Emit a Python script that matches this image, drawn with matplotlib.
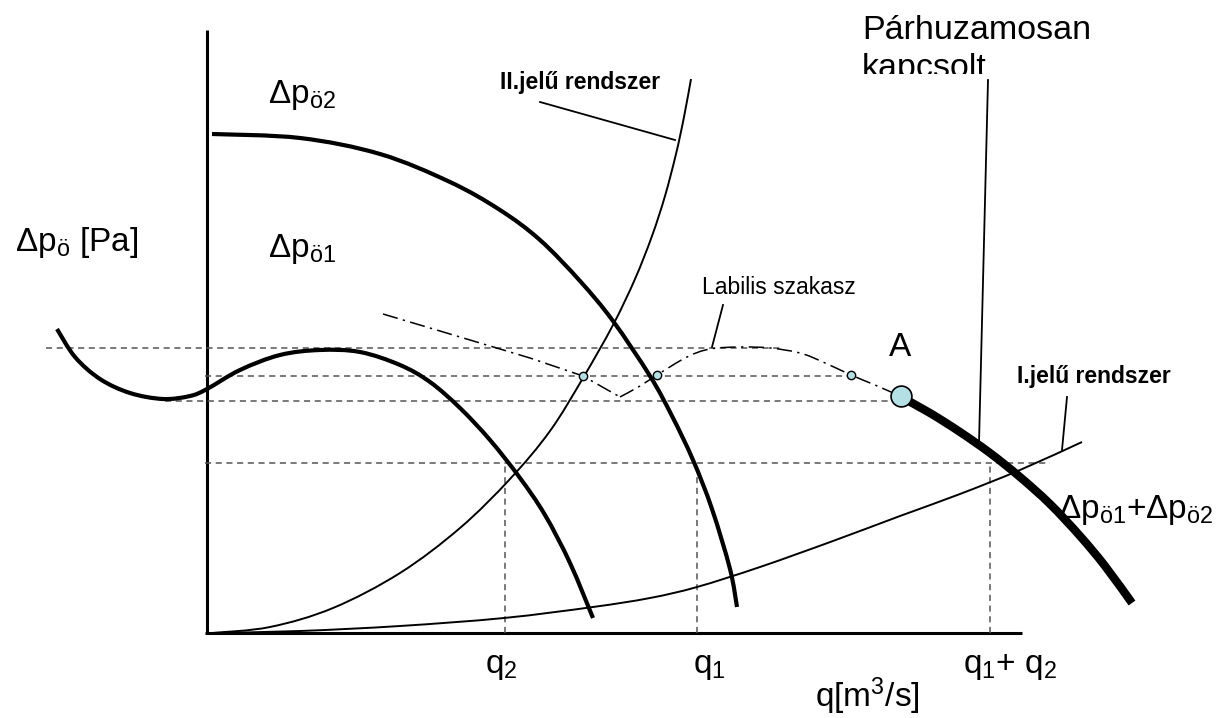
import matplotlib
matplotlib.use("Agg")
import matplotlib.pyplot as plt
from matplotlib.path import Path
from matplotlib.patches import PathPatch
from matplotlib.transforms import Bbox, TransformedBbox

# Start Data Section *********************************************
# q = flow (horizontal), dp = pressure (vertical), arbitrary units, origin at axis corner

# fan curve Δpö2 (big fan)
fan2_q = [5, 93, 173, 243, 293, 333, 373, 406, 443, 465, 486, 505, 523, 530]
fan2_dp = [499, 495, 479, 451, 423, 393, 352, 312, 257, 217, 173, 124, 64, 26]

# fan curve Δpö1 (small fan, with unstable loop at the left)
fan1_q = [-150, -132, -107, -77, -44, -17, 0, 33, 73, 113, 153, 193, 223, 253, 283, 313, 338, 363, 386]
fan1_dp = [304, 276, 254, 240, 234, 237, 244, 263, 278, 283, 281, 268, 251, 225, 193, 155, 118, 70, 15]

# system curve II (steep)
sys2_q = [5, 63, 126, 193, 253, 303, 343, 376, 406, 428, 445, 458, 469, 477, 484]
sys2_dp = [0, 6, 25, 60, 105, 154, 202, 255, 308, 354, 397, 437, 479, 516, 554]

# system curve I (flat)
sys1_q = [5, 93, 193, 297, 386, 443, 490, 553, 626, 693, 753, 813, 875]
sys1_dp = [0, 2, 7, 15, 26, 35, 46, 66, 92, 117, 139, 163, 191]

# parallel connected curve Δpö1+Δpö2 (stable part, from A)
par_q = [694, 723, 753, 783, 813, 843, 873, 898, 925]
par_dp = [236, 220, 201, 180, 156, 129, 97, 67, 30]

# unstable section of the parallel curve (sharp turn at index 5)
lab_q = [176, 223, 273, 323, 376, 413, 433, 450, 480, 503, 533, 563, 593, 616, 644, 668, 693]
lab_dp = [319, 305, 290, 275, 257, 236, 247, 258, 276, 284, 286, 285, 280, 271, 258, 248, 237]

# marked points on the unstable section and the working point A
pts_q = [376, 450, 644]
pts_dp = [257, 258, 258]
a_q = 694
a_dp = 237

# helper lines: horizontal levels with their extents, vertical flows
hlev_dp = [285, 257, 232, 170]
hlev_from = [-161, -2, -42, -2]
hlev_to = [573, 644, 694, 843]
q2 = 298
q1 = 490
q12 = 783

# tick labels on the q axis
qtick_pos = [278, 486, 756]
qtick_lab = [r"q$_{\mathregular{2}}$", r"q$_{\mathregular{1}}$",
             r"q$_{\mathregular{1}}$+ q$_{\mathregular{2}}$"]
# End Data Section ***********************************************

plt.rcParams['font.family'] = ['Liberation Sans', 'DejaVu Sans']
plt.rcParams['mathtext.fontset'] = 'custom'
plt.rcParams['mathtext.rm'] = 'Liberation Sans'
plt.rcParams['mathtext.it'] = 'Liberation Sans:italic'
plt.rcParams['mathtext.bf'] = 'Liberation Sans:bold'

DASH_COL = '#555555'
BIG = 24
SMALL = 16.5


def smooth_curve(ax, xs, ys, **kw):
    # draw a smooth bezier path through the read points (Catmull-Rom handles)
    pts = list(zip(xs, ys))
    n = len(pts)
    verts = [pts[0]]
    codes = [Path.MOVETO]
    for i in range(n - 1):
        p0 = pts[max(i - 1, 0)]
        p1 = pts[i]
        p2 = pts[i + 1]
        p3 = pts[min(i + 2, n - 1)]
        c1 = (p1[0] + (p2[0] - p0[0]) / 6, p1[1] + (p2[1] - p0[1]) / 6)
        c2 = (p2[0] - (p3[0] - p1[0]) / 6, p2[1] - (p3[1] - p1[1]) / 6)
        verts += [c1, c2, p2]
        codes += [Path.CURVE4] * 3
    patch = PathPatch(Path(verts, codes), fill=False, **kw)
    ax.add_patch(patch)


def draw_axes(ax):
    ax.plot([0, 0], [0, 603], color='black', lw=2.2, solid_capstyle='butt')
    ax.plot([-2, 815], [0, 0], color='black', lw=2.2, solid_capstyle='butt')


def draw_helpers(ax):
    for lev, a, b in zip(hlev_dp, hlev_from, hlev_to):
        ax.plot([a, b], [lev, lev], color=DASH_COL, lw=1.1, ls=(0, (4, 3)))
    top = hlev_dp[3]
    for q in [q2, q1, q12]:
        ax.plot([q, q], [0, top], color=DASH_COL, lw=1.1, ls=(0, (4, 3)))


def draw_curves(ax):
    smooth_curve(ax, fan2_q, fan2_dp, edgecolor='black', lw=3, capstyle='butt', zorder=3)
    smooth_curve(ax, fan1_q, fan1_dp, edgecolor='black', lw=3, capstyle='butt', zorder=3)
    smooth_curve(ax, sys2_q, sys2_dp, edgecolor='black', lw=1.4, zorder=3)
    smooth_curve(ax, sys1_q, sys1_dp, edgecolor='black', lw=1.4, zorder=3)
    smooth_curve(ax, par_q, par_dp, edgecolor='black', lw=6, capstyle='butt', zorder=3)

    dashdot = (0, (10, 3.5, 1.5, 3.5))
    ax.plot(lab_q[:6], lab_dp[:6], color='black', lw=1.1, ls=dashdot, zorder=3)
    smooth_curve(ax, lab_q[5:], lab_dp[5:], edgecolor='black', lw=1.1,
                 linestyle=dashdot, zorder=3)

    ax.plot(pts_q, pts_dp, 'o', ms=6, mfc='#b4dfe5', mec='black', mew=1, zorder=5)
    ax.plot([a_q], [a_dp], 'o', ms=15, mfc='#b4dfe5', mec='black', mew=1.2, zorder=5)


def draw_labels(ax):
    # leader lines
    ax.plot([333, 468], [531, 493], color='black', lw=1.3)
    ax.plot([516, 505], [328, 286], color='black', lw=1.3)
    ax.plot([781, 772], [553, 190], color='black', lw=1.3)
    ax.plot([860, 855], [236, 183], color='black', lw=1.3)

    ax.text(655, 594, "Párhuzamosan", fontsize=BIG + 0.5, va='baseline')
    t = ax.text(655, 556, "kapcsolt", fontsize=BIG + 0.5, va='baseline')
    # the second line is cut off at the bottom in the original
    t.set_clip_box(TransformedBbox(Bbox([[600, 559], [900, 640]]), ax.transData))
    t.set_clip_on(True)

    ax.text(293, 550, "II.jelű rendszer", fontsize=SMALL, fontweight='bold', va='center')
    ax.text(810, 256, "I.jelű rendszer", fontsize=SMALL, fontweight='bold', va='center')
    ax.text(495, 345, "Labilis szakasz", fontsize=SMALL, va='center')
    ax.text(693, 285, "A", fontsize=BIG, ha='center', va='center')

    ax.text(-192, 390, r"Δp$_{\mathregular{ö}}$ [Pa]", fontsize=BIG, va='center')
    ax.text(61, 538, r"Δp$_{\mathregular{ö2}}$", fontsize=BIG, va='center')
    ax.text(61, 384, r"Δp$_{\mathregular{ö1}}$", fontsize=BIG, va='center')
    ax.text(851, 123, r"Δp$_{\mathregular{ö1}}$+Δp$_{\mathregular{ö2}}$", fontsize=BIG, va='center')

    for x, lab in zip(qtick_pos, qtick_lab):
        ax.text(x, -34, lab, fontsize=BIG, va='center')
    ax.text(608, -63, r"q[m$^{\mathregular{3}}$/s]", fontsize=BIG, va='center')


def main():
    fig = plt.figure(figsize=(12.19, 7.18), dpi=100)
    ax = fig.add_axes([0, 0, 1, 1])
    ax.set_xlim(-207, 1012)
    ax.set_ylim(-85, 633)
    ax.axis('off')

    draw_axes(ax)
    draw_helpers(ax)
    draw_curves(ax)
    draw_labels(ax)

    fig.savefig("out.png", dpi=100, facecolor='white')


if __name__ == "__main__":
    main()
